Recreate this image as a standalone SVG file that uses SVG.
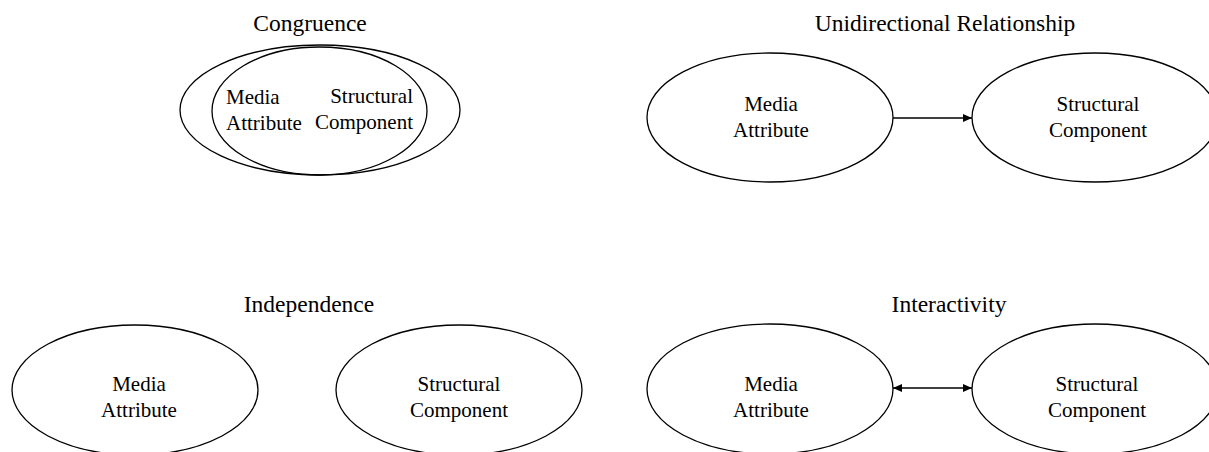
<svg xmlns="http://www.w3.org/2000/svg" width="1209" height="452" viewBox="0 0 1209 452">
<defs>
<style>
.e{fill:none;stroke:#000;stroke-width:1.3}
.t{font-family:"Liberation Serif","Times New Roman",serif;font-size:23.5px;fill:#000;text-anchor:middle}
.l{font-family:"Liberation Serif","Times New Roman",serif;font-size:21px;fill:#000;text-anchor:middle}
.c{stroke:#000;stroke-width:1.3;fill:none}
</style>
<marker id="ah" markerWidth="9" markerHeight="8" refX="9" refY="4" orient="auto" markerUnits="userSpaceOnUse">
<path d="M0,0 L9,4 L0,8 Z" fill="#000"/>
</marker>
<marker id="as" markerWidth="9" markerHeight="8" refX="0" refY="4" orient="auto" markerUnits="userSpaceOnUse">
<path d="M9,0 L0,4 L9,8 Z" fill="#000"/>
</marker>
</defs>
<rect width="1209" height="452" fill="#fff"/>

<g id="congruence">
<text class="t" x="310" y="31">Congruence</text>
<ellipse class="e" cx="320" cy="110" rx="140" ry="65"/>
<ellipse class="e" cx="319.5" cy="111" rx="107.5" ry="64"/>
<text class="l" x="226" y="104" style="text-anchor:start">Media</text>
<text class="l" x="226" y="130" style="text-anchor:start">Attribute</text>
<text class="l" x="413" y="103" style="text-anchor:end">Structural</text>
<text class="l" x="413" y="129" style="text-anchor:end">Component</text>
</g>

<g id="unidirectional">
<text class="t" x="945" y="31">Unidirectional Relationship</text>
<g id="uni-media">
<ellipse class="e" cx="770" cy="117.5" rx="123" ry="64.5"/>
<text class="l" x="771" y="111">Media</text>
<text class="l" x="771" y="137">Attribute</text>
</g>
<g id="uni-structural">
<ellipse class="e" cx="1095" cy="117.5" rx="123" ry="64.5"/>
<text class="l" x="1098" y="111">Structural</text>
<text class="l" x="1098" y="137">Component</text>
</g>
</g>

<g id="independence">
<text class="t" x="309" y="312">Independence</text>
<g id="ind-media">
<ellipse class="e" cx="135" cy="390" rx="123" ry="65"/>
<text class="l" x="139" y="391">Media</text>
<text class="l" x="139" y="417">Attribute</text>
</g>
<g id="ind-structural">
<ellipse class="e" cx="459" cy="390" rx="123" ry="65"/>
<text class="l" x="459" y="391">Structural</text>
<text class="l" x="459" y="417">Component</text>
</g>
</g>

<g id="interactivity">
<text class="t" x="949" y="312">Interactivity</text>
<g id="int-media">
<ellipse class="e" cx="770" cy="389" rx="123" ry="65"/>
<text class="l" x="771" y="391">Media</text>
<text class="l" x="771" y="417">Attribute</text>
</g>
<g id="int-structural">
<ellipse class="e" cx="1095" cy="389" rx="123" ry="65"/>
<text class="l" x="1097" y="391">Structural</text>
<text class="l" x="1097" y="417">Component</text>
</g>
</g>

<g id="connectors">
<line class="c" x1="893" y1="118" x2="972" y2="118" marker-end="url(#ah)"/>
<line class="c" x1="893" y1="388" x2="972" y2="388" marker-start="url(#as)" marker-end="url(#ah)"/>
</g>
</svg>
